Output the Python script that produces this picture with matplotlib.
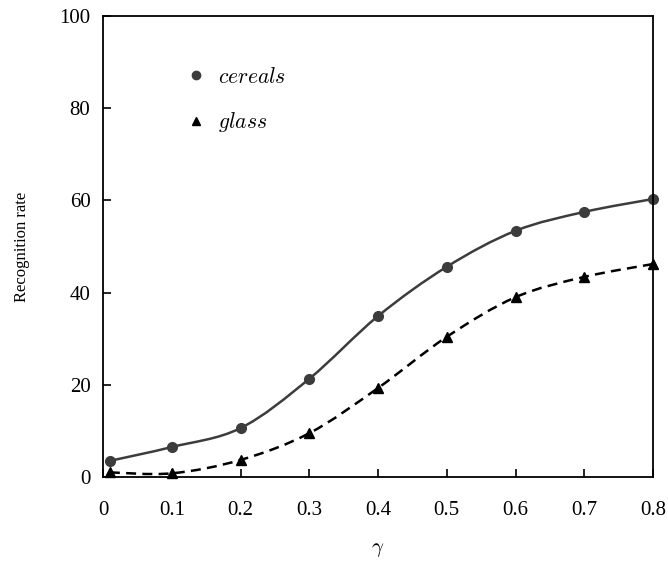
import numpy as np
import matplotlib
matplotlib.use('Agg')
import matplotlib.pyplot as plt
from matplotlib.path import Path
from matplotlib.patches import PathPatch
from matplotlib.lines import Line2D

plt.rcParams['font.family'] = 'Liberation Serif'
plt.rcParams['mathtext.fontset'] = 'cm'

gamma = [0.01, 0.1, 0.2, 0.3, 0.4, 0.5, 0.6, 0.7, 0.8]
cereals = [3.5, 6.5, 10.6, 21.3, 34.9, 45.6, 53.4, 57.5, 60.3]
glass = [1.0, 0.8, 3.7, 9.5, 19.3, 30.4, 39.0, 43.4, 46.2]
x_ticks = [0, 0.1, 0.2, 0.3, 0.4, 0.5, 0.6, 0.7, 0.8]
x_tick_labels = ['0', '0.1', '0.2', '0.3', '0.4', '0.5', '0.6', '0.7', '0.8']
y_ticks = [0, 20, 40, 60, 80, 100]


def smooth_path(xs, ys):
    # Catmull-Rom spline through the points, as cubic bezier segments
    pts = np.column_stack([xs, ys])
    verts = [pts[0]]
    codes = [Path.MOVETO]
    n = len(pts)
    for i in range(n - 1):
        p0 = pts[i - 1] if i > 0 else pts[i]
        p1, p2 = pts[i], pts[i + 1]
        p3 = pts[i + 2] if i + 2 < n else pts[i + 1]
        c1 = p1 + (p2 - p0) / 6.0
        c2 = p2 - (p3 - p1) / 6.0
        verts += [c1, c2, p2]
        codes += [Path.CURVE4] * 3
    return Path(verts, codes)


fig = plt.figure(figsize=(6.68, 5.66), dpi=100)
ax = fig.add_axes([103 / 668, 1 - 477 / 566, 550 / 668, 461 / 566])

ax.add_patch(PathPatch(smooth_path(gamma, cereals), fill=False,
                       color='#3c3c3c', lw=1.8))
ax.add_patch(PathPatch(smooth_path(gamma, glass), fill=False,
                       color='black', lw=1.8, linestyle=(0, (4, 2.5))))
ax.plot(gamma, cereals, 'o', color='#3c3c3c', ms=7, clip_on=False)
ax.plot(gamma, glass, '^', color='black', ms=7, clip_on=False)

ax.set_xlim(0, 0.8)
ax.set_ylim(0, 100)
ax.set_xticks(x_ticks)
ax.set_xticklabels(x_tick_labels)
ax.set_yticks(y_ticks)
ax.tick_params(direction='in', length=6, width=1.2, labelsize=15,
               top=False, right=False)
ax.tick_params(axis='x', pad=17)
ax.tick_params(axis='y', pad=9)
for s in ax.spines.values():
    s.set_linewidth(1.3)

ax.set_ylabel('Recognition rate', fontsize=12, labelpad=21)
ax.set_xlabel(r'$\gamma$', fontsize=15, labelpad=15)

handles = [Line2D([], [], marker='o', ls='none', color='#3c3c3c', ms=6),
           Line2D([], [], marker='^', ls='none', color='black', ms=6)]
ax.legend(handles, [r'$cereals$', r'$glass$'], loc='upper left',
          bbox_to_anchor=(0.115, 0.93), frameon=False, fontsize=15.5,
          handlelength=1.0, handletextpad=0.5, labelspacing=1.05)

fig.savefig('out.png', dpi=100)
